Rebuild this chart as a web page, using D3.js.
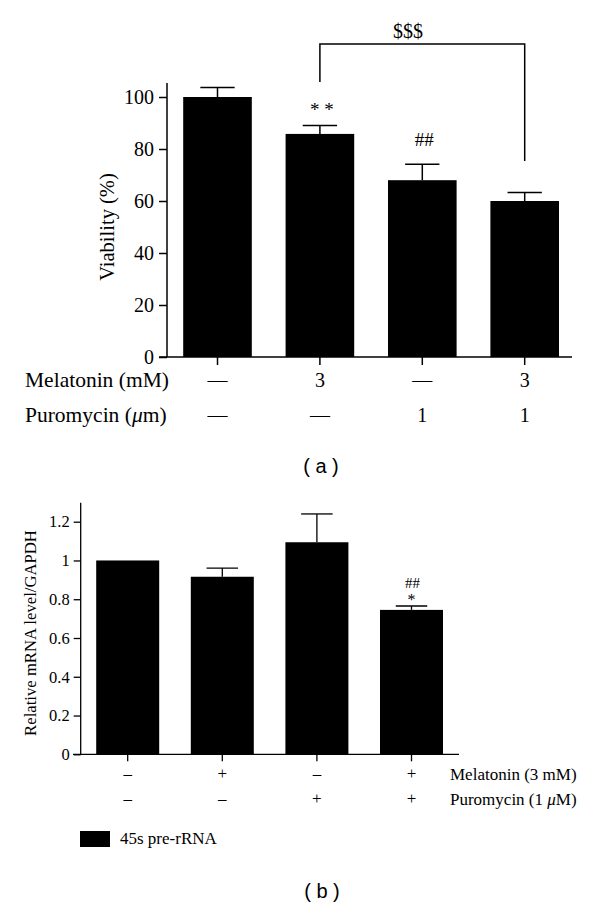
<!DOCTYPE html>
<html><head><meta charset="utf-8">
<script src="https://cdn.jsdelivr.net/npm/d3@7"></script>
<style>body{margin:0;background:#fff}svg{display:block}text{font-family:"Liberation Serif","Times New Roman",serif;fill:#000}</style>
</head><body>
<svg id="c" width="600" height="906"></svg>
<script>
// Panel (a)
const groupsA = ["g1","g2","g3","g4"];
const viability = [100, 85.8, 68.0, 60.0];
const viabilityErr = [3.7, 3.2, 6.1, 3.3];
const viabilityTicks = [0,20,40,60,80,100];
const melatoninA = ["—","3","—","3"];
const puromycinA = ["—","—","1","1"];
const annotA = ["","* *","##",""];

// Panel (b)
const groupsB = ["g1","g2","g3","g4"];
const mrna = [1.0, 0.916, 1.094, 0.745];
const mrnaErr = [0, 0.045, 0.146, 0.02];
const mrnaTicks = [0,0.2,0.4,0.6,0.8,1.0,1.2];
const melatoninB = ["–","+","–","+"];
const puromycinB = ["–","–","+","+"];

const svg = d3.select("#c");
const SERIF = '"Liberation Serif","Times New Roman",serif';

// ---------- Panel a ----------
{
  const g = svg.append("g");
  const x = d3.scaleBand().domain(groupsA).range([166.3, 575.9]).paddingInner(0.33).paddingOuter(0.165);
  const y = d3.scaleLinear().domain([0, 100]).range([357, 97]);
  const yTop = y(105.4);
  g.selectAll(".bar").data(groupsA).join("rect")
    .attr("x", d => x(d)).attr("width", x.bandwidth())
    .attr("y", (d,i) => y(viability[i])).attr("height", (d,i) => y(0) - y(viability[i]))
    .attr("fill", "#000");
  const cw = x.bandwidth()/2;
  groupsA.forEach((d,i) => {
    const cx = x(d) + x.bandwidth()/2;
    const top = y(viability[i]+viabilityErr[i]);
    g.append("line").attr("x1",cx).attr("x2",cx).attr("y1",y(viability[i])).attr("y2",top).attr("stroke","#000").attr("stroke-width",1.5);
    g.append("line").attr("x1",cx-cw/2).attr("x2",cx+cw/2).attr("y1",top).attr("y2",top).attr("stroke","#000").attr("stroke-width",1.5);
    if (annotA[i]) {
      g.append("text").attr("x",cx+2).attr("y",top - (i===1?10:18)).attr("text-anchor","middle").attr("font-size",19).text(annotA[i]);
    }
  });
  const ax = g.append("g").attr("transform","translate(167,0)")
    .call(d3.axisLeft(y).tickValues(viabilityTicks).tickSize(8).tickPadding(5).tickFormat(d3.format("d")));
  ax.select(".domain").remove();
  ax.selectAll("line").attr("stroke","#000").attr("stroke-width",1.5);
  ax.selectAll("text").attr("font-size",20).style("font-family",SERIF);
  g.append("line").attr("x1",167).attr("x2",167).attr("y1",yTop).attr("y2",y(0)).attr("stroke","#000").attr("stroke-width",1.5);
  g.append("line").attr("x1",159).attr("x2",572).attr("y1",y(0)).attr("y2",y(0)).attr("stroke","#000").attr("stroke-width",1.5);
  groupsA.forEach(d => {
    const cx = x(d) + x.bandwidth()/2;
    g.append("line").attr("x1",cx).attr("x2",cx).attr("y1",y(0)).attr("y2",y(0)+8).attr("stroke","#000").attr("stroke-width",1.5);
  });
  g.append("text").attr("transform","translate(114,227) rotate(-90)").attr("text-anchor","middle").attr("font-size",20.5).text("Viability (%)");
  g.append("text").attr("x",25).attr("y",387).attr("font-size",21.5).text("Melatonin (mM)");
  const pl = g.append("text").attr("x",25).attr("y",422).attr("font-size",21.5);
  pl.append("tspan").text("Puromycin (");
  pl.append("tspan").attr("font-style","italic").text("μ");
  pl.append("tspan").text("m)");
  groupsA.forEach((d,i) => {
    const cx = x(d) + x.bandwidth()/2;
    g.append("text").attr("x",cx).attr("y",387).attr("text-anchor","middle").attr("font-size",20).text(melatoninA[i]);
    g.append("text").attr("x",cx).attr("y",422).attr("text-anchor","middle").attr("font-size",20).text(puromycinA[i]);
  });
  const bx1 = x("g2") + x.bandwidth()/2, bx2 = x("g4") + x.bandwidth()/2;
  g.append("path").attr("d",`M${bx1},82 V44 H${bx2} V161`).attr("fill","none").attr("stroke","#000").attr("stroke-width",1.5);
  g.append("text").attr("x",bx1 + (bx2-bx1)*0.43).attr("y",38).attr("text-anchor","middle").attr("font-size",20).text("$$$");
  g.append("text").attr("x",321).attr("y",473).attr("text-anchor","middle").attr("font-size",20).style("font-family","'Liberation Sans',Arial,sans-serif").attr("xml:space","preserve").text("( a )");
}

// ---------- Panel b ----------
{
  const g = svg.append("g");
  const x = d3.scaleBand().domain(groupsB).range([80.4, 458.8]).paddingInner(0.334).paddingOuter(0.167);
  const y = d3.scaleLinear().domain([0, 1.2]).range([754.3, 521.7]);
  const yTop = 502.7;
  g.selectAll(".bar").data(groupsB).join("rect")
    .attr("x", d => x(d)).attr("width", x.bandwidth())
    .attr("y", (d,i) => y(mrna[i])).attr("height", (d,i) => y(0) - y(mrna[i]))
    .attr("fill", "#000");
  const cw = x.bandwidth()/2;
  groupsB.forEach((d,i) => {
    if (!mrnaErr[i]) return;
    const cx = x(d) + x.bandwidth()/2;
    const top = y(mrna[i]+mrnaErr[i]);
    g.append("line").attr("x1",cx).attr("x2",cx).attr("y1",y(mrna[i])).attr("y2",top).attr("stroke","#000").attr("stroke-width",1.3);
    g.append("line").attr("x1",cx-cw/2).attr("x2",cx+cw/2).attr("y1",top).attr("y2",top).attr("stroke","#000").attr("stroke-width",1.3);
  });
  const cx4 = x("g4") + x.bandwidth()/2;
  g.append("text").attr("x",cx4+1).attr("y",588).attr("text-anchor","middle").attr("font-size",15).text("##");
  g.append("text").attr("x",cx4).attr("y",605).attr("text-anchor","middle").attr("font-size",16).text("*");
  const ax = g.append("g").attr("transform","translate(80.7,0)")
    .call(d3.axisLeft(y).tickValues(mrnaTicks).tickSize(7).tickPadding(4).tickFormat(d => d===0?"0":d===1?"1":d3.format(".1f")(d)));
  ax.select(".domain").remove();
  ax.selectAll("line").attr("stroke","#000").attr("stroke-width",1.3);
  ax.selectAll("text").attr("font-size",16.5).style("font-family",SERIF);
  g.append("line").attr("x1",80.7).attr("x2",80.7).attr("y1",yTop).attr("y2",y(0)).attr("stroke","#000").attr("stroke-width",1.3);
  g.append("line").attr("x1",73).attr("x2",459).attr("y1",y(0)).attr("y2",y(0)).attr("stroke","#000").attr("stroke-width",1.3);
  groupsB.forEach((d,i) => {
    const cx = x(d) + x.bandwidth()/2;
    g.append("line").attr("x1",cx).attr("x2",cx).attr("y1",y(0)).attr("y2",y(0)+7).attr("stroke","#000").attr("stroke-width",1.3);
    g.append("text").attr("x",cx).attr("y",779).attr("text-anchor","middle").attr("font-size",17).text(melatoninB[i]);
    g.append("text").attr("x",cx).attr("y",804).attr("text-anchor","middle").attr("font-size",17).text(puromycinB[i]);
  });
  g.append("text").attr("transform","translate(36,633) rotate(-90)").attr("text-anchor","middle").attr("font-size",16.7).text("Relative mRNA level/GAPDH");
  g.append("text").attr("x",450).attr("y",780).attr("font-size",17).text("Melatonin (3 mM)");
  const pl = g.append("text").attr("x",450).attr("y",805).attr("font-size",17);
  pl.append("tspan").text("Puromycin (1 ");
  pl.append("tspan").attr("font-style","italic").text("μ");
  pl.append("tspan").text("M)");
  g.append("rect").attr("x",80).attr("y",831).attr("width",30).attr("height",16).attr("fill","#000");
  g.append("text").attr("x",120).attr("y",844).attr("font-size",17).text("45s pre-rRNA");
  g.append("text").attr("x",322).attr("y",898).attr("text-anchor","middle").attr("font-size",20).style("font-family","'Liberation Sans',Arial,sans-serif").attr("xml:space","preserve").text("( b )");
}
</script>
</body></html>
